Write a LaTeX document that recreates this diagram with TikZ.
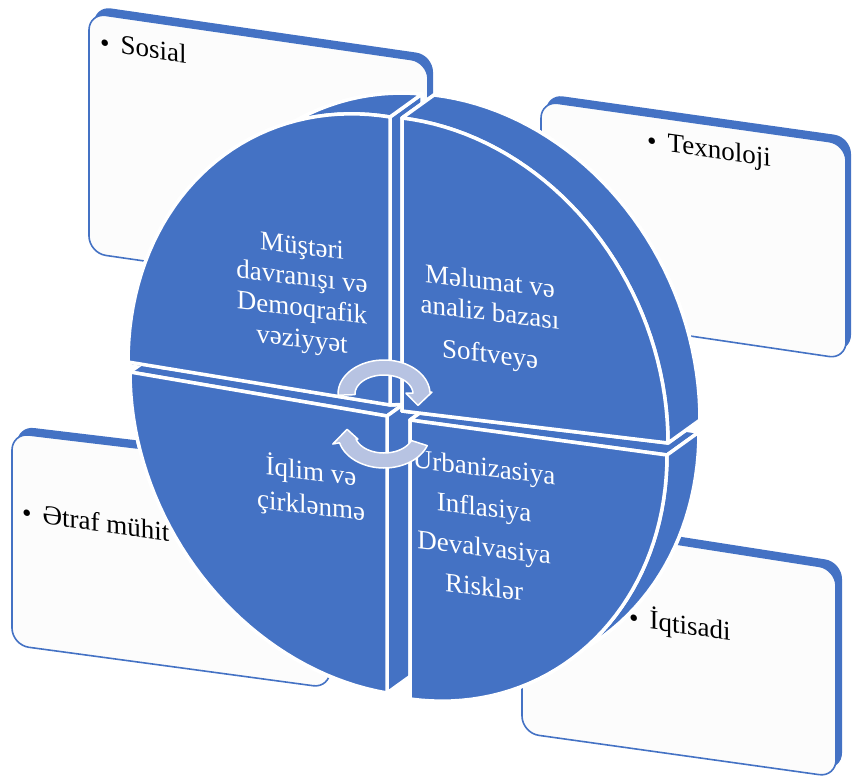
\documentclass[tikz,border=0pt]{standalone}
\usepackage{fontspec}
\setmainfont{Liberation Serif}
\definecolor{discblue}{HTML}{4472C4}
\definecolor{boxfill}{HTML}{FCFCFC}
\definecolor{ringfill}{HTML}{B7C3E2}

% quarter of the disc: front corner K, horizontal end A, vertical end B;
% back face corner P, ends Q and R
\def\fx{\Kx+cos(\x)*(\Ax-\Kx)+sin(\x)*(\Bx-\Kx)}
\def\fy{\Ky+cos(\x)*(\Ay-\Ky)+sin(\x)*(\By-\Ky)}
\def\gx{\Px+cos(\x)*(\Qx-\Px)+sin(\x)*(\Rx-\Px)}
\def\gy{\Py+cos(\x)*(\Qy-\Py)+sin(\x)*(\Ry-\Py)}
\newcommand\setfront[6]{\def\Kx{#1}\def\Ky{#2}\def\Ax{#3}\def\Ay{#4}\def\Bx{#5}\def\By{#6}}
\newcommand\setback[6]{\def\Px{#1}\def\Py{#2}\def\Qx{#3}\def\Qy{#4}\def\Rx{#5}\def\Ry{#6}}
\newcommand\pushback[2]{% back face = front face moved by (#1,#2)
  \pgfmathsetmacro\Px{\Kx+#1}\pgfmathsetmacro\Py{\Ky+#2}%
  \pgfmathsetmacro\Qx{\Ax+#1}\pgfmathsetmacro\Qy{\Ay+#2}%
  \pgfmathsetmacro\Rx{\Bx+#1}\pgfmathsetmacro\Ry{\By+#2}}
\newcommand\kaface{\path[face] (\Kx,\Ky) -- (\Ax,\Ay) -- (\Qx,\Qy) -- (\Px,\Py) -- cycle;}
\newcommand\kbface{\path[face] (\Kx,\Ky) -- (\Bx,\By) -- (\Rx,\Ry) -- (\Px,\Py) -- cycle;}
\newcommand\arcband{\path[face] plot[domain=0:90,samples=40] ({\fx},{\fy})
   -- plot[domain=90:0,samples=40] ({\gx},{\gy}) -- cycle;}
\newcommand\backpart[1]{%
  \path[face] (\Px,\Py) -- plot[domain=0:90,samples=40] ({\gx},{\gy}) -- cycle;
  #1}
\newcommand\frontpart{%
  \path[face] (\Kx,\Ky) -- plot[domain=0:90,samples=40] ({\fx},{\fy}) -- cycle;}

% curved arrow around (cx,cy) from angle t1 down to t2;
% head base reaches from x-radius #5 (outer) to #6 (inner), tip #7 degrees on
\newcommand\cyclearrow[7]{%
  \path[ringarrow]
    plot[domain=#3:#4,samples=40] ({#1+46*cos(\x)},{#2-34*sin(\x)})
    -- ({#1+#5*cos(#4)},{#2-0.73*#5*sin(#4)})
    -- ({#1+37.5*cos(#4-#7)},{#2-27*sin(#4-#7)})
    -- ({#1+#6*cos(#4)},{#2-0.73*#6*sin(#4)})
    -- plot[domain=#4:#3,samples=40] ({#1+29*cos(\x)},{#2-19*sin(\x)})
    -- cycle;
}

\begin{document}
\begin{tikzpicture}[x=1pt,y=-1pt,
  face/.style={fill=discblue,draw=white,line width=3.5pt,line join=round},
  slabback/.style={fill=discblue,rounded corners=17pt},
  slabfront/.style={fill=boxfill,draw=discblue,line width=1.6pt,rounded corners=17pt},
  boxtext/.style={font=\fontsize{27}{31}\selectfont,text=black,inner sep=0pt,anchor=base west,yslant=-0.14},
  disctext/.style={font=\fontsize{27}{31}\selectfont,text=white,align=center,inner sep=0pt,yslant=-0.12},
  ringarrow/.style={fill=ringfill,draw=white,line width=1.5pt,line join=round}]
\useasboundingbox (0,0) rectangle (853,781);

% outer slabs
\def\sosialbox{(89,13) -- (428,62) -- (428,302) -- (89,253) -- cycle}
\def\texbox{(541,101) -- (846,144) -- (846,359) -- (541,314) -- cycle}
\def\etrafbox{(12,433) -- (330,471) -- (330,688) -- (12,645) -- cycle}
\def\iqtbox{(522,520) -- (836,569) -- (836,777) -- (522,733) -- cycle}
\path[slabback,shift={(5,-7)}] \sosialbox;
\path[slabfront] \sosialbox;
\path[slabback,shift={(5,-7)}] \texbox;
\path[slabfront] \texbox;
\path[slabback,shift={(5,-7)}] \etrafbox;
\path[slabfront] \etrafbox;
\path[slabback,shift={(6,-7)}] \iqtbox;
\path[slabfront] \iqtbox;

\node[boxtext] (sosial) at (100,51) {•\hspace{11pt}Sosial};
\node[boxtext] (texnoloji) at (647,149) {•\hspace{11pt}Texnoloji};
\node[boxtext] (etraf) at (22,521) {•\hspace{11pt}Ətraf mühit};
\node[boxtext] (iqtisadi) at (629,626) {•\hspace{11pt}İqtisadi};

% disc quarters, farthest first
% lower left
\setfront{387}{416}{130}{372}{387}{693}\pushback{32}{-23}
\backpart{\arcband\kaface\kbface}\frontpart
% lower right
\setfront{410}{420}{667}{455}{410}{699}\pushback{32}{-23}
\backpart{\kbface\kaface\arcband}\frontpart
% upper left: back face tilted so the top rim fades out to the left
\setfront{390}{405}{128}{362}{390}{117}\setback{424.5}{403.4}{162}{379}{422}{94}
\begin{scope}
  \clip (0,0) -- (853,0) -- (853,482.5) -- (0,342.5) -- cycle;
  \backpart{\kaface\kbface\arcband}
\end{scope}
\frontpart
% upper right
\setfront{402}{411}{668}{443}{402}{118}\pushback{32}{-23}
\backpart{\kaface\kbface\arcband}\frontpart

\node[disctext] (musteri) at (302,295) {Müştəri\\davranışı və\\Demoqrafik\\vəziyyət};
\node[disctext] (melumat) at (490,320) {Məlumat və\\analiz bazası\\[11pt]Softveyə};
\node[disctext] (iqlim) at (311,489) {İqlim və\\[3pt]çirklənmə};
\node[disctext] (urban) at (484,527) {Urbanizasiya\\[9pt]Inflasiya\\[9pt]Devalvasiya\\[9pt]Risklər};

% central cycle arrows
\cyclearrow{384}{394}{182}{3}{48}{22}{28}
\cyclearrow{384}{434}{-20}{-165}{53}{27}{25}
\end{tikzpicture}
\end{document}
